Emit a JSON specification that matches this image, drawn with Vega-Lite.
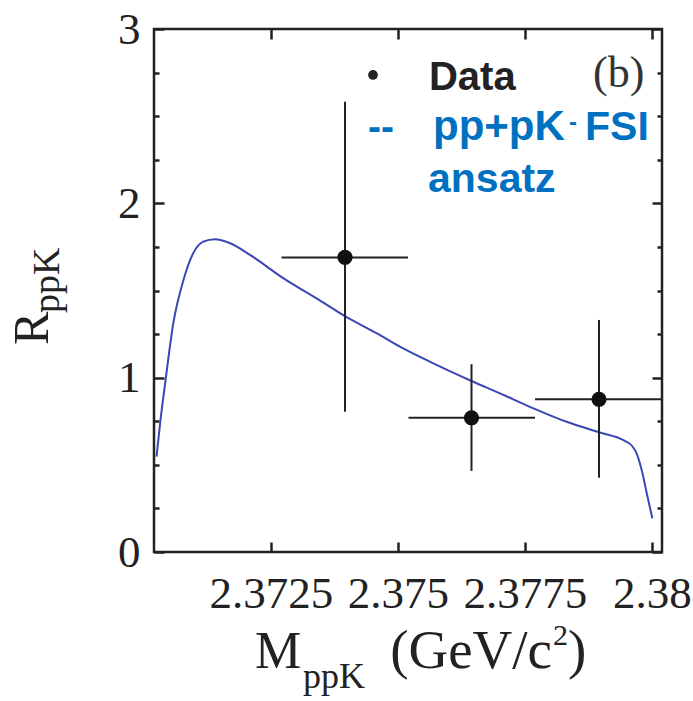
{
  "$schema": "https://vega.github.io/schema/vega-lite/v6.json",
  "width": 508,
  "height": 523,
  "autosize": {"type": "none"},
  "padding": {"left": 154, "top": 29, "right": 31, "bottom": 149},
  "background": "white",
  "config": {
    "view": {"stroke": "#222", "strokeWidth": 2.5},
    "axis": {"domain": false, "grid": false, "labelFont": "Liberation Serif", "labelFontSize": 45, "labelColor": "#222", "tickColor": "#222", "tickWidth": 2.5}
  },
  "datasets": {
    "curve": [
      {"m": 2.37025, "r": 0.547}, {"m": 2.37032, "r": 0.738}, {"m": 2.37042, "r": 0.968},
      {"m": 2.37058, "r": 1.312}, {"m": 2.37078, "r": 1.56}, {"m": 2.37097, "r": 1.713},
      {"m": 2.37117, "r": 1.78}, {"m": 2.3714, "r": 1.794}, {"m": 2.3717, "r": 1.771},
      {"m": 2.37209, "r": 1.704}, {"m": 2.37275, "r": 1.57}, {"m": 2.3734, "r": 1.455},
      {"m": 2.37395, "r": 1.354}, {"m": 2.37458, "r": 1.255}, {"m": 2.37504, "r": 1.178},
      {"m": 2.3757, "r": 1.082}, {"m": 2.37645, "r": 0.981}, {"m": 2.37701, "r": 0.91},
      {"m": 2.37767, "r": 0.824}, {"m": 2.37832, "r": 0.747}, {"m": 2.37896, "r": 0.687},
      {"m": 2.37945, "r": 0.64}, {"m": 2.37962, "r": 0.605}, {"m": 2.3797, "r": 0.566},
      {"m": 2.3798, "r": 0.47}, {"m": 2.3799, "r": 0.337}, {"m": 2.38001, "r": 0.193}
    ],
    "points": [
      {"m": 2.37396, "r": 1.69, "mlo": 2.37271, "mhi": 2.3752, "rlo": 0.805, "rhi": 2.583},
      {"m": 2.37645, "r": 0.77, "mlo": 2.37521, "mhi": 2.3777, "rlo": 0.465, "rhi": 1.077},
      {"m": 2.37896, "r": 0.876, "mlo": 2.3777, "mhi": 2.3802, "rlo": 0.426, "rhi": 1.331}
    ]
  },
  "layer": [
    {
      "data": {"name": "curve"},
      "mark": {"type": "line", "color": "#3c46b4", "strokeWidth": 2, "interpolate": "monotone", "clip": true},
      "encoding": {
        "x": {"field": "m", "type": "quantitative", "scale": {"domain": [2.3702, 2.3802], "nice": false, "zero": false},
          "axis": {"orient": "bottom", "values": [2.3725, 2.375, 2.3775, 2.38], "format": ".4~f", "tickSize": -10, "labelPadding": 29, "title": null}},
        "y": {"field": "r", "type": "quantitative", "scale": {"domain": [0, 3], "nice": false, "zero": true},
          "axis": {"orient": "left", "values": [0, 0.25, 0.5, 0.75, 1, 1.25, 1.5, 1.75, 2, 2.25, 2.5, 2.75, 3],
            "labelExpr": "datum.value % 1 === 0 ? format(datum.value, 'd') : ''",
            "tickSize": {"condition": {"test": "datum.value % 1 === 0", "value": -10}, "value": -5},
            "labelPadding": 24, "title": null}}
      }
    },
    {
      "data": {"name": "points"},
      "mark": {"type": "rule", "color": "#222", "strokeWidth": 2},
      "encoding": {
        "x": {"field": "mlo", "type": "quantitative",
          "axis": {"orient": "top", "values": [2.3725, 2.375, 2.3775, 2.38], "labels": false, "tickSize": -10, "title": null}},
        "x2": {"field": "mhi"},
        "y": {"field": "r", "type": "quantitative",
          "axis": {"orient": "right", "values": [0, 0.25, 0.5, 0.75, 1, 1.25, 1.5, 1.75, 2, 2.25, 2.5, 2.75, 3], "labels": false,
            "tickSize": {"condition": {"test": "datum.value % 1 === 0", "value": -10}, "value": -5}, "title": null}}
      }
    },
    {
      "data": {"name": "points"},
      "mark": {"type": "rule", "color": "#222", "strokeWidth": 2},
      "encoding": {
        "x": {"field": "m", "type": "quantitative", "axis": null},
        "y": {"field": "rlo", "type": "quantitative", "axis": null},
        "y2": {"field": "rhi"}
      }
    },
    {
      "data": {"name": "points"},
      "mark": {"type": "circle", "size": 230, "color": "#111", "opacity": 1},
      "encoding": {
        "x": {"field": "m", "type": "quantitative", "axis": null},
        "y": {"field": "r", "type": "quantitative", "axis": null}
      }
    },
    {
      "data": {"values": [{}]},
      "mark": {"type": "circle", "size": 95, "color": "#222", "opacity": 1},
      "encoding": {"x": {"datum": 2.374511, "axis": null}, "y": {"datum": 2.7362, "axis": null}}
    },
    {
      "data": {"values": [{}]},
      "mark": {"type": "text", "text": "Data", "font": "Liberation Sans", "fontWeight": "bold", "fontSize": 40, "color": "#222", "align": "left", "baseline": "alphabetic"},
      "encoding": {"x": {"datum": 2.375613, "axis": null}, "y": {"datum": 2.6501, "axis": null}}
    },
    {
      "data": {"values": [{}]},
      "mark": {"type": "text", "text": "--", "font": "Liberation Sans", "fontWeight": "bold", "fontSize": 39, "color": "#0070C0", "align": "left", "baseline": "alphabetic"},
      "encoding": {"x": {"datum": 2.374413, "axis": null}, "y": {"datum": 2.3633, "axis": null}}
    },
    {
      "data": {"values": [{}]},
      "mark": {"type": "text", "text": "pp+pK", "font": "Liberation Sans", "fontWeight": "bold", "fontSize": 42, "color": "#0070C0", "align": "left", "baseline": "alphabetic"},
      "encoding": {"x": {"datum": 2.375692, "axis": null}, "y": {"datum": 2.3633, "axis": null}}
    },
    {
      "data": {"values": [{}]},
      "mark": {"type": "text", "text": "-", "font": "Liberation Sans", "fontWeight": "bold", "fontSize": 24, "color": "#0070C0", "align": "left", "baseline": "alphabetic"},
      "encoding": {"x": {"datum": 2.37837, "axis": null}, "y": {"datum": 2.4207, "axis": null}}
    },
    {
      "data": {"values": [{}]},
      "mark": {"type": "text", "text": "FSI", "font": "Liberation Sans", "fontWeight": "bold", "fontSize": 41, "color": "#0070C0", "align": "left", "baseline": "alphabetic"},
      "encoding": {"x": {"datum": 2.378684, "axis": null}, "y": {"datum": 2.3633, "axis": null}}
    },
    {
      "data": {"values": [{}]},
      "mark": {"type": "text", "text": "ansatz", "font": "Liberation Sans", "fontWeight": "bold", "fontSize": 41, "color": "#0070C0", "align": "left", "baseline": "alphabetic"},
      "encoding": {"x": {"datum": 2.375594, "axis": null}, "y": {"datum": 2.065, "axis": null}}
    },
    {
      "data": {"values": [{}]},
      "mark": {"type": "text", "text": "(b)", "font": "Liberation Serif", "fontSize": 44, "color": "#333", "align": "left", "baseline": "alphabetic"},
      "encoding": {"x": {"datum": 2.378842, "axis": null}, "y": {"datum": 2.67, "axis": null}}
    },
    {
      "data": {"values": [{}]},
      "mark": {"type": "text", "text": "M", "font": "Liberation Serif", "fontSize": 52, "color": "#222", "align": "left", "baseline": "alphabetic"},
      "encoding": {"x": {"datum": 2.372188, "axis": null}, "y": {"datum": -0.6654, "axis": null}}
    },
    {
      "data": {"values": [{}]},
      "mark": {"type": "text", "text": "ppK", "font": "Liberation Serif", "fontSize": 36, "color": "#222", "align": "left", "baseline": "alphabetic"},
      "encoding": {"x": {"datum": 2.373133, "axis": null}, "y": {"datum": -0.7801, "axis": null}}
    },
    {
      "data": {"values": [{}]},
      "mark": {"type": "text", "text": "(GeV/c", "font": "Liberation Serif", "fontSize": 55, "color": "#222", "align": "right", "baseline": "alphabetic"},
      "encoding": {"x": {"datum": 2.378035, "axis": null}, "y": {"datum": -0.6654, "axis": null}}
    },
    {
      "data": {"values": [{}]},
      "mark": {"type": "text", "text": "2", "font": "Liberation Serif", "fontSize": 30, "color": "#222", "align": "left", "baseline": "alphabetic"},
      "encoding": {"x": {"datum": 2.378054, "axis": null}, "y": {"datum": -0.5335, "axis": null}}
    },
    {
      "data": {"values": [{}]},
      "mark": {"type": "text", "text": ")", "font": "Liberation Serif", "fontSize": 55, "color": "#222", "align": "left", "baseline": "alphabetic"},
      "encoding": {"x": {"datum": 2.37835, "axis": null}, "y": {"datum": -0.6654, "axis": null}}
    },
    {
      "data": {"values": [{}]},
      "mark": {"type": "text", "text": "R", "font": "Liberation Serif", "fontSize": 50, "color": "#222", "align": "left", "baseline": "alphabetic", "angle": 270},
      "encoding": {"x": {"datum": 2.368113, "axis": null}, "y": {"datum": 1.1874, "axis": null}}
    },
    {
      "data": {"values": [{}]},
      "mark": {"type": "text", "text": "ppK", "font": "Liberation Serif", "fontSize": 38, "color": "#222", "align": "left", "baseline": "alphabetic", "angle": 270},
      "encoding": {"x": {"datum": 2.36833, "axis": null}, "y": {"datum": 1.3709, "axis": null}}
    }
  ],
  "resolve": {"axis": {"x": "independent", "y": "independent"}}
}
